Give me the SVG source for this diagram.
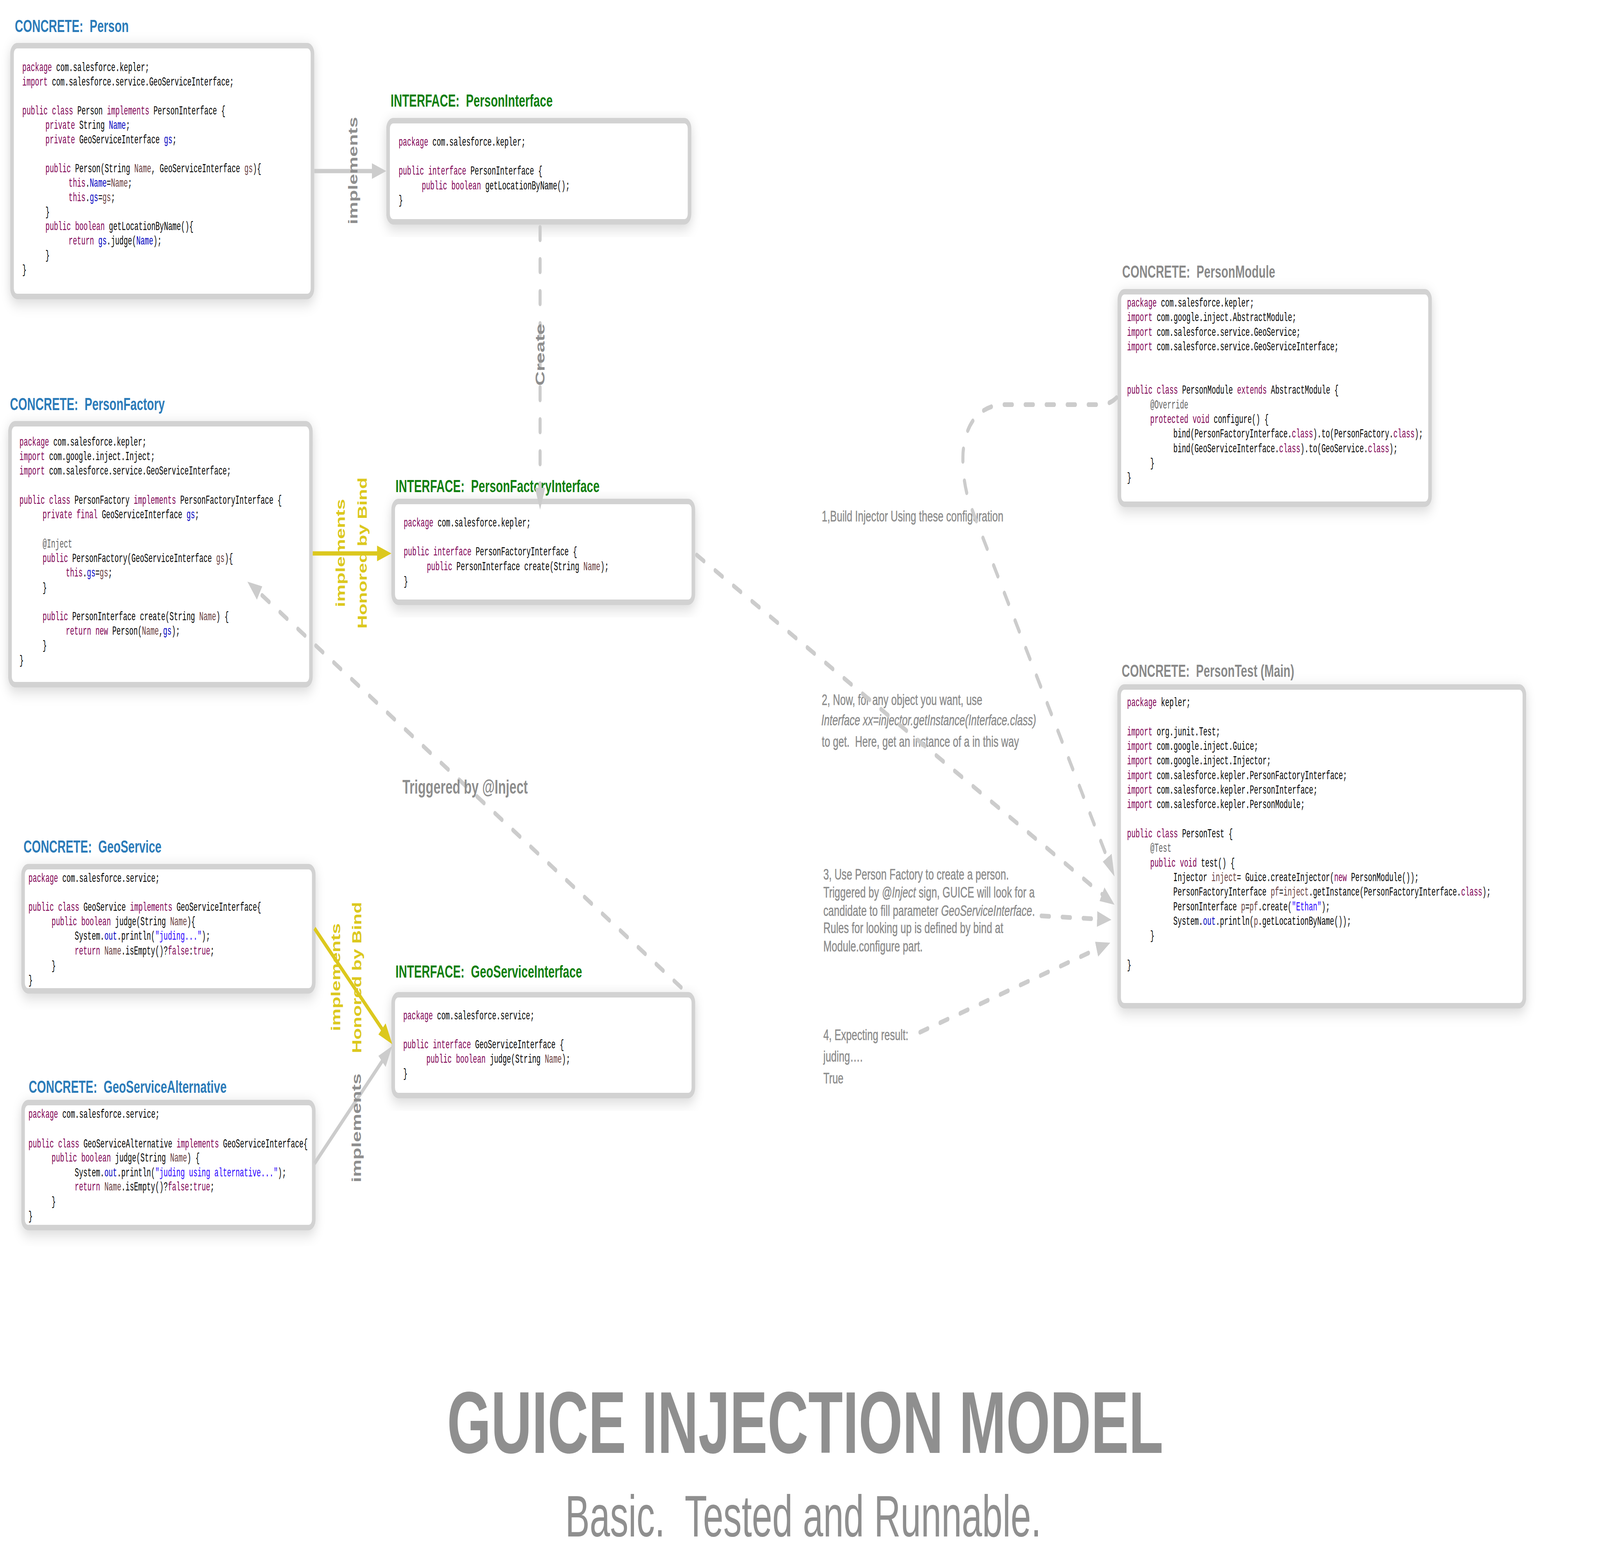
<svg xmlns="http://www.w3.org/2000/svg" width="6242" height="4007" viewBox="0 0 6242 4007" preserveAspectRatio="none">
<style>
svg:root{width:100vw;height:100vh;display:block}
.code{font-family:"Liberation Mono","DejaVu Sans Mono",monospace;font-size:32px;fill:#000}
.k{fill:#7f0055}.f{fill:#0000c0}.p{fill:#6a3e3e}.a{fill:#646464}.s{fill:#2a00ff}
.box{fill:#fff;stroke:#d2d2d2;stroke-width:14}
.t{font-family:"Liberation Sans",Arial,sans-serif;font-weight:bold;font-size:45px}
.tc{fill:#2b7bb9}.ti{fill:#117f10}.tg{fill:#8a8a8a}
.lbl{font-family:"Liberation Sans",Arial,sans-serif;font-weight:bold;font-size:50px}
.lg{fill:#8e8e8e}.ly{fill:#dcc81e}
.note{font-family:"Liberation Sans",Arial,sans-serif;font-size:39px;fill:#8c8c8c;stroke:#8c8c8c;stroke-width:0.6}
.dash{fill:none;stroke:#cccccc;stroke-width:12;stroke-dasharray:32 50;stroke-linecap:round}
.sg{fill:none;stroke:#cccccc;stroke-width:11}
.sy{fill:none;stroke:#dcc81e;stroke-width:11}
.big{font-family:"Liberation Sans",Arial,sans-serif;fill:#8f8f8f}
</style>
<defs>
<filter id="sh" x="-10%" y="-10%" width="120%" height="125%">
<feDropShadow dx="0" dy="10" stdDeviation="18" flood-color="#000" flood-opacity="0.16"/>
</filter>
<marker id="ag" markerUnits="userSpaceOnUse" viewBox="0 0 56 40" markerWidth="56" markerHeight="40" refX="1" refY="20" orient="auto"><path d="M0,0 L56,20 L0,40 z" fill="#cccccc"/></marker>
<marker id="ay" markerUnits="userSpaceOnUse" viewBox="0 0 56 40" markerWidth="56" markerHeight="40" refX="1" refY="20" orient="auto"><path d="M0,0 L56,20 L0,40 z" fill="#dcc81e"/></marker>
</defs>
<rect x="0" y="0" width="6242" height="4007" fill="#fff"/>

<g id="node-person">
<text class="t tc" x="58" y="82" xml:space="preserve" textLength="444" lengthAdjust="spacingAndGlyphs">CONCRETE:  Person</text>
<rect class="box" x="47" y="117" width="1172" height="642" rx="20" filter="url(#sh)"/>
<g class="code" transform="translate(87 0) scale(0.86 1)">
<text y="182"><tspan class="k">package</tspan> com.salesforce.kepler;</text>
<text y="219"><tspan class="k">import</tspan> com.salesforce.service.GeoServiceInterface;</text>
<text y="293"><tspan class="k">public class</tspan> Person <tspan class="k">implements</tspan> PersonInterface {</text>
<text x="105" y="330"><tspan class="k">private</tspan> String <tspan class="f">Name</tspan>;</text>
<text x="105" y="367"><tspan class="k">private</tspan> GeoServiceInterface <tspan class="f">gs</tspan>;</text>
<text x="105" y="441"><tspan class="k">public</tspan> Person(String <tspan class="p">Name</tspan>, GeoServiceInterface <tspan class="p">gs</tspan>){</text>
<text x="210" y="478"><tspan class="k">this</tspan>.<tspan class="f">Name</tspan>=<tspan class="p">Name</tspan>;</text>
<text x="210" y="515"><tspan class="k">this</tspan>.<tspan class="f">gs</tspan>=<tspan class="p">gs</tspan>;</text>
<text x="105" y="552">}</text>
<text x="105" y="589"><tspan class="k">public boolean</tspan> getLocationByName(){</text>
<text x="210" y="626"><tspan class="k">return</tspan> <tspan class="f">gs</tspan>.judge(<tspan class="f">Name</tspan>);</text>
<text x="105" y="663">}</text>
<text y="700">}</text>
</g>
</g>

<g id="node-personinterface">
<text class="t ti" x="1524" y="273" xml:space="preserve" textLength="632" lengthAdjust="spacingAndGlyphs">INTERFACE:  PersonInterface</text>
<rect class="box" x="1514" y="309" width="1176" height="259" rx="20" filter="url(#sh)"/>
<g class="code" transform="translate(1555 0) scale(0.86 1)">
<text y="373"><tspan class="k">package</tspan> com.salesforce.kepler;</text>
<text y="447"><tspan class="k">public interface</tspan> PersonInterface {</text>
<text x="105" y="485"><tspan class="k">public boolean</tspan> getLocationByName();</text>
<text y="522">}</text>
</g>
</g>

<g id="node-personfactory">
<text class="t tc" x="39" y="1050" xml:space="preserve" textLength="604" lengthAdjust="spacingAndGlyphs">CONCRETE:  PersonFactory</text>
<rect class="box" x="39" y="1085" width="1174" height="668" rx="20" filter="url(#sh)"/>
<g class="code" transform="translate(76 0) scale(0.86 1)">
<text y="1141"><tspan class="k">package</tspan> com.salesforce.kepler;</text>
<text y="1178"><tspan class="k">import</tspan> com.google.inject.Inject;</text>
<text y="1215"><tspan class="k">import</tspan> com.salesforce.service.GeoServiceInterface;</text>
<text y="1290"><tspan class="k">public class</tspan> PersonFactory <tspan class="k">implements</tspan> PersonFactoryInterface {</text>
<text x="105" y="1327"><tspan class="k">private final</tspan> GeoServiceInterface <tspan class="f">gs</tspan>;</text>
<text x="105" y="1402" class="a">@Inject</text>
<text x="105" y="1439"><tspan class="k">public</tspan> PersonFactory(GeoServiceInterface <tspan class="p">gs</tspan>){</text>
<text x="210" y="1476"><tspan class="k">this</tspan>.<tspan class="f">gs</tspan>=<tspan class="p">gs</tspan>;</text>
<text x="105" y="1514">}</text>
<text x="105" y="1588"><tspan class="k">public</tspan> PersonInterface create(String <tspan class="p">Name</tspan>) {</text>
<text x="210" y="1625"><tspan class="k">return new</tspan> Person(<tspan class="p">Name</tspan>,<tspan class="f">gs</tspan>);</text>
<text x="105" y="1662">}</text>
<text y="1700">}</text>
</g>
</g>

<g id="node-personfactoryinterface">
<text class="t ti" x="1543" y="1260" xml:space="preserve" textLength="796" lengthAdjust="spacingAndGlyphs">INTERFACE:  PersonFactoryInterface</text>
<rect class="box" x="1534" y="1284" width="1171" height="258" rx="20" filter="url(#sh)"/>
<g class="code" transform="translate(1575 0) scale(0.86 1)">
<text y="1348"><tspan class="k">package</tspan> com.salesforce.kepler;</text>
<text y="1422"><tspan class="k">public interface</tspan> PersonFactoryInterface {</text>
<text x="105" y="1460"><tspan class="k">public</tspan> PersonInterface create(String <tspan class="p">Name</tspan>);</text>
<text y="1498">}</text>
</g>
</g>

<g id="node-geoservice">
<text class="t tc" x="92" y="2183" xml:space="preserve" textLength="538" lengthAdjust="spacingAndGlyphs">CONCRETE:  GeoService</text>
<rect class="box" x="90" y="2219" width="1134" height="318" rx="20" filter="url(#sh)"/>
<g class="code" transform="translate(111 0) scale(0.86 1)">
<text y="2258"><tspan class="k">package</tspan> com.salesforce.service;</text>
<text y="2332"><tspan class="k">public class</tspan> GeoService <tspan class="k">implements</tspan> GeoServiceInterface{</text>
<text x="105" y="2369"><tspan class="k">public boolean</tspan> judge(String <tspan class="p">Name</tspan>){</text>
<text x="210" y="2406">System.<tspan class="f">out</tspan>.println(<tspan class="s">"juding..."</tspan>);</text>
<text x="210" y="2444"><tspan class="k">return</tspan> <tspan class="p">Name</tspan>.isEmpty()?<tspan class="k">false</tspan>:<tspan class="k">true</tspan>;</text>
<text x="105" y="2482">}</text>
<text y="2519">}</text>
</g>
</g>

<g id="node-geoservicealternative">
<text class="t tc" x="112" y="2798" xml:space="preserve" textLength="772" lengthAdjust="spacingAndGlyphs">CONCRETE:  GeoServiceAlternative</text>
<rect class="box" x="90" y="2823" width="1134" height="320" rx="20" filter="url(#sh)"/>
<g class="code" transform="translate(111 0) scale(0.86 1)">
<text y="2862"><tspan class="k">package</tspan> com.salesforce.service;</text>
<text y="2938"><tspan class="k">public class</tspan> GeoServiceAlternative <tspan class="k">implements</tspan> GeoServiceInterface{</text>
<text x="105" y="2974"><tspan class="k">public boolean</tspan> judge(String <tspan class="p">Name</tspan>) {</text>
<text x="210" y="3012">System.<tspan class="f">out</tspan>.println(<tspan class="s">"juding using alternative..."</tspan>);</text>
<text x="210" y="3048"><tspan class="k">return</tspan> <tspan class="p">Name</tspan>.isEmpty()?<tspan class="k">false</tspan>:<tspan class="k">true</tspan>;</text>
<text x="105" y="3086">}</text>
<text y="3123">}</text>
</g>
</g>

<g id="node-geoserviceinterface">
<text class="t ti" x="1543" y="2503" xml:space="preserve" textLength="728" lengthAdjust="spacingAndGlyphs">INTERFACE:  GeoServiceInterface</text>
<rect class="box" x="1534" y="2547" width="1171" height="258" rx="20" filter="url(#sh)"/>
<g class="code" transform="translate(1573 0) scale(0.86 1)">
<text y="2610"><tspan class="k">package</tspan> com.salesforce.service;</text>
<text y="2684"><tspan class="k">public interface</tspan> GeoServiceInterface {</text>
<text x="105" y="2721"><tspan class="k">public boolean</tspan> judge(String <tspan class="p">Name</tspan>);</text>
<text y="2758">}</text>
</g>
</g>

<g id="node-personmodule">
<text class="t tg" x="4378" y="711" xml:space="preserve" textLength="597" lengthAdjust="spacingAndGlyphs">CONCRETE:  PersonModule</text>
<rect class="box" x="4367" y="747" width="1212" height="544" rx="20" filter="url(#sh)"/>
<g class="code" transform="translate(4397 0) scale(0.86 1)">
<text y="785"><tspan class="k">package</tspan> com.salesforce.kepler;</text>
<text y="822"><tspan class="k">import</tspan> com.google.inject.AbstractModule;</text>
<text y="860"><tspan class="k">import</tspan> com.salesforce.service.GeoService;</text>
<text y="897"><tspan class="k">import</tspan> com.salesforce.service.GeoServiceInterface;</text>
<text y="1008"><tspan class="k">public class</tspan> PersonModule <tspan class="k">extends</tspan> AbstractModule {</text>
<text x="105" y="1046" class="a">@Override</text>
<text x="105" y="1083"><tspan class="k">protected void</tspan> configure() {</text>
<text x="210" y="1120">bind(PersonFactoryInterface.<tspan class="k">class</tspan>).to(PersonFactory.<tspan class="k">class</tspan>);</text>
<text x="210" y="1158">bind(GeoServiceInterface.<tspan class="k">class</tspan>).to(GeoService.<tspan class="k">class</tspan>);</text>
<text x="105" y="1195">}</text>
<text y="1232">}</text>
</g>
</g>

<g id="node-persontest">
<text class="t tg" x="4376" y="1733" xml:space="preserve" textLength="673" lengthAdjust="spacingAndGlyphs">CONCRETE:  PersonTest (Main)</text>
<rect class="box" x="4366" y="1759" width="1581" height="816" rx="20" filter="url(#sh)"/>
<g class="code" transform="translate(4397 0) scale(0.86 1)">
<text y="1808"><tspan class="k">package</tspan> kepler;</text>
<text y="1883"><tspan class="k">import</tspan> org.junit.Test;</text>
<text y="1920"><tspan class="k">import</tspan> com.google.inject.Guice;</text>
<text y="1957"><tspan class="k">import</tspan> com.google.inject.Injector;</text>
<text y="1995"><tspan class="k">import</tspan> com.salesforce.kepler.PersonFactoryInterface;</text>
<text y="2032"><tspan class="k">import</tspan> com.salesforce.kepler.PersonInterface;</text>
<text y="2069"><tspan class="k">import</tspan> com.salesforce.kepler.PersonModule;</text>
<text y="2144"><tspan class="k">public class</tspan> PersonTest {</text>
<text x="105" y="2181" class="a">@Test</text>
<text x="105" y="2219"><tspan class="k">public void</tspan> test() {</text>
<text x="210" y="2256">Injector <tspan class="p">inject</tspan>= Guice.createInjector(<tspan class="k">new</tspan> PersonModule());</text>
<text x="210" y="2293">PersonFactoryInterface <tspan class="p">pf</tspan>=<tspan class="p">inject</tspan>.getInstance(PersonFactoryInterface.<tspan class="k">class</tspan>);</text>
<text x="210" y="2331">PersonInterface <tspan class="p">p</tspan>=<tspan class="p">pf</tspan>.create(<tspan class="s">"Ethan"</tspan>);</text>
<text x="210" y="2368">System.<tspan class="f">out</tspan>.println(<tspan class="p">p</tspan>.getLocationByName());</text>
<text x="105" y="2405">}</text>
<text y="2480">}</text>
</g>
</g>

<g id="notes" class="note">
<text x="3206" y="1335">1,Build Injector Using these configuration</text>
<text x="3206" y="1805">2, Now, for any object you want, use</text>
<text x="3204" y="1857" font-style="italic">Interface xx=injector.getInstance(Interface.class)</text>
<text x="3206" y="1912" xml:space="preserve">to get.  Here, get an instance of a in this way</text>
<text x="3212" y="2252">3, Use Person Factory to create a person.</text>
<text x="3212" y="2298">Triggered by <tspan font-style="italic">@Inject</tspan> sign, GUICE will look for a</text>
<text x="3212" y="2345">candidate to fill parameter <tspan font-style="italic">GeoServiceInterface</tspan>.</text>
<text x="3212" y="2389">Rules for looking up is defined by bind at</text>
<text x="3212" y="2436">Module.configure part.</text>
<text x="3212" y="2663">4, Expecting result:</text>
<text x="3212" y="2718">juding….</text>
<text x="3212" y="2774">True</text>
</g>

<g id="connectors">
<path class="sg" d="M1226,438 L1452,438" marker-end="url(#ag)"/>
<path class="sy" d="M1220,1417 L1472,1417" marker-end="url(#ay)"/>
<path class="sy" d="M1227,2377 L1491,2635" marker-end="url(#ay)"/>
<path class="sg" d="M1227,2979 L1491,2717" marker-end="url(#ag)"/>
<path class="dash" d="M2107,582 L2107,1250" marker-end="url(#ag)"/>
<path class="dash" d="M2657,2528 L1012,1518" marker-end="url(#ag)"/>
<path class="dash" d="M2718,1421 L4300,2290" marker-end="url(#ag)"/>
<path class="dash" d="M4062,2345 L4281,2353" marker-end="url(#ag)"/>
<path class="dash" d="M3589,2643 L4279,2430" marker-end="url(#ag)"/>
<path class="dash" d="M4356,1018 Q4330,1036 4290,1036 L3900,1036 Q3770,1050 3757,1160 Q3752,1240 3795,1310 L4320,2197" marker-end="url(#ag)"/>
<text class="lbl lg" transform="translate(1395 437) rotate(-90)" text-anchor="middle" textLength="275" lengthAdjust="spacingAndGlyphs">implements</text>
<text class="lbl lg" transform="translate(2124 908) rotate(-90)" text-anchor="middle" textLength="159" lengthAdjust="spacingAndGlyphs">Create</text>
<text class="lbl ly" transform="translate(1346 1416) rotate(-90)" text-anchor="middle" textLength="277" lengthAdjust="spacingAndGlyphs">implements</text>
<text class="lbl ly" transform="translate(1431 1416) rotate(-90)" text-anchor="middle" textLength="387" lengthAdjust="spacingAndGlyphs">Honored by Bind</text>
<text class="lbl ly" transform="translate(1328 2502) rotate(-90)" text-anchor="middle" textLength="276" lengthAdjust="spacingAndGlyphs">implements</text>
<text class="lbl ly" transform="translate(1409 2503) rotate(-90)" text-anchor="middle" textLength="387" lengthAdjust="spacingAndGlyphs">Honored by Bind</text>
<text class="lbl lg" transform="translate(1408 2888) rotate(-90)" text-anchor="middle" textLength="279" lengthAdjust="spacingAndGlyphs">implements</text>
<text class="lbl lg" x="1570" y="2032" font-size="55" textLength="489" lengthAdjust="spacingAndGlyphs">Triggered by @Inject</text>
</g>

<g id="title">
<text class="big" x="1744" y="3720" font-size="225" font-weight="bold" textLength="2794" lengthAdjust="spacingAndGlyphs">GUICE INJECTION MODEL</text>
<text class="big" x="2205" y="3934" font-size="150" fill="#9a9a9a" xml:space="preserve" textLength="1857" lengthAdjust="spacingAndGlyphs">Basic.  Tested and Runnable.</text>
</g>
</svg>
